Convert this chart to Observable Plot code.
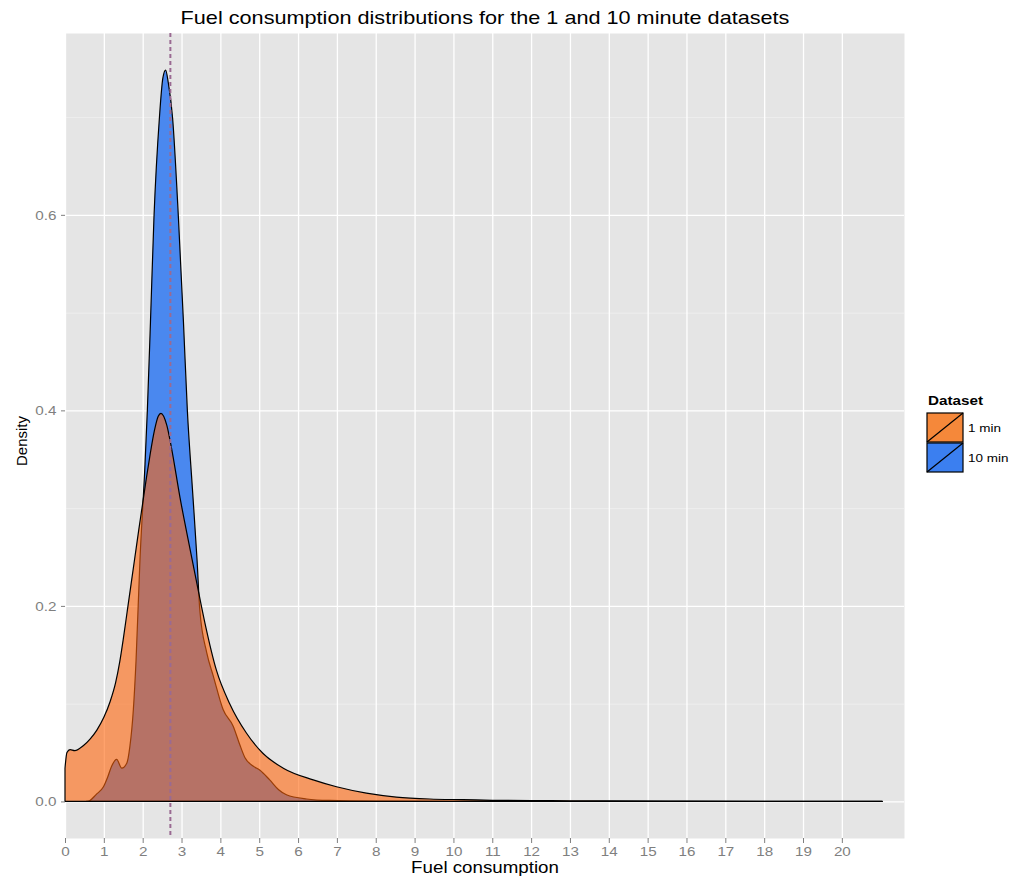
<!DOCTYPE html>
<html>
<head>
<meta charset="utf-8">
<script src="https://cdn.jsdelivr.net/npm/d3@7"></script>
<script src="https://cdn.jsdelivr.net/npm/@observablehq/plot@0.6"></script>
<style>
  html, body { margin: 0; padding: 0; background: white; }
  #chart svg { display: block; }
</style>
</head>
<body>
<div id="chart"></div>
<script>
// ---- Data ----
const titleText = "Fuel consumption distributions for the 1 and 10 minute datasets";
const xLabel = "Fuel consumption";
const yLabel = "Density";
const legendTitle = "Dataset";
const seriesNames = ["1 min", "10 min"];

const xTicks = [0,1,2,3,4,5,6,7,8,9,10,11,12,13,14,15,16,17,18,19,20];
const yTicks = [0, 0.2, 0.4, 0.6];
const yMinor = [0.1, 0.3, 0.5, 0.7];
const meanLine = [2.7];

// 1 minute dataset density curve
const oneMinX = [0.00, 0.05, 0.13, 0.25, 0.47, 0.65, 0.82, 1.00, 1.16, 1.30, 1.41, 1.50, 1.60, 1.70, 1.80, 1.90, 2.00, 2.10, 2.20, 2.30, 2.40, 2.47, 2.62, 2.74, 2.96, 3.20, 3.40, 3.60, 3.90, 4.24, 4.67, 5.10, 5.62, 6.39, 6.99, 7.76, 8.53, 9.39, 10.24, 11.0, 12.0, 13.0, 14.0, 16.0, 18.0, 21.04];
const oneMinY = [0.034, 0.050, 0.053, 0.052, 0.057, 0.064, 0.073, 0.086, 0.102, 0.121, 0.143, 0.166, 0.194, 0.222, 0.250, 0.278, 0.305, 0.332, 0.357, 0.379, 0.394, 0.397, 0.385, 0.362, 0.311, 0.262, 0.222, 0.183, 0.134, 0.100, 0.070, 0.049, 0.034, 0.022, 0.015, 0.0085, 0.0045, 0.0025, 0.0018, 0.0012, 0.0009, 0.0007, 0.0005, 0.0003, 0.0002, 0.0001];

// 10 minute dataset density curve
const tenMinX = [0.55, 0.64, 0.80, 0.99, 1.10, 1.20, 1.33, 1.46, 1.59, 1.67, 1.76, 1.83, 1.93, 2.06, 2.12, 2.20, 2.29, 2.43, 2.52, 2.59, 2.66, 2.77, 2.92, 3.05, 3.15, 3.28, 3.40, 3.47, 3.65, 3.82, 4.07, 4.33, 4.50, 4.63, 4.85, 5.02, 5.27, 5.50, 5.70, 6.22, 6.80, 8.00, 10.0, 21.04];
const tenMinY = [0.000, 0.001, 0.007, 0.015, 0.025, 0.036, 0.043, 0.034, 0.039, 0.056, 0.094, 0.145, 0.247, 0.345, 0.400, 0.490, 0.597, 0.699, 0.740, 0.748, 0.735, 0.699, 0.597, 0.490, 0.400, 0.320, 0.247, 0.196, 0.152, 0.128, 0.094, 0.077, 0.058, 0.045, 0.036, 0.032, 0.022, 0.012, 0.0068, 0.0025, 0.001, 0.0003, 0.0001, 0.0];

const oneMin = oneMinX.map((x, i) => ({x, y: oneMinY[i]}));
const tenMin = tenMinX.map((x, i) => ({x, y: tenMinY[i]}));

const orange = "#ff640a";
const blue = "#4a88ef";
const font = "'Liberation Sans', Arial, Helvetica, sans-serif";

const svg = Plot.plot({
  width: 1020,
  height: 876,
  marginLeft: 65,
  marginRight: 116,
  marginTop: 33,
  marginBottom: 38,
  style: {fontFamily: font, background: "white", overflow: "visible"},
  x: {domain: [0, 21.6]},
  y: {domain: [-0.0374, 0.786]},
  marks: [
    Plot.frame({fill: "#E5E5E5", stroke: "none"}),
    Plot.ruleY(yMinor, {stroke: "#F2F2F2", strokeWidth: 0.7}),
    Plot.ruleY(yTicks, {stroke: "white", strokeWidth: 1.3}),
    Plot.ruleX(xTicks, {stroke: "white", strokeWidth: 1.3}),
    Plot.areaY(tenMin, {x: "x", y: "y", fill: blue, stroke: "black", strokeWidth: 1.2, curve: "monotone-x"}),
    Plot.areaY(oneMin, {x: "x", y: "y", fill: orange, fillOpacity: 0.6, stroke: "black", strokeWidth: 1.2, curve: "monotone-x"}),
    Plot.ruleX(meanLine, {stroke: "#9a6a92", strokeWidth: 2, strokeDasharray: "4,3"}),
    Plot.axisX({ticks: xTicks, tickSize: 5, tickPadding: 3, fontSize: 13, color: "#7f7f7f", label: null}),
    Plot.axisY({ticks: yTicks, tickFormat: d3.format(".1f"), tickSize: 4, tickPadding: 5, fontSize: 13, color: "#7f7f7f", label: null}),
    Plot.text([titleText], {text: d => d, frameAnchor: "top", lineAnchor: "middle", textAnchor: "middle", dy: -15, fontSize: 18.5, fill: "black"}),
    Plot.text([xLabel], {text: d => d, frameAnchor: "bottom", lineAnchor: "middle", textAnchor: "middle", dy: 29, fontSize: 16, fill: "black"}),
    Plot.text([yLabel], {text: d => d, frameAnchor: "left", lineAnchor: "middle", textAnchor: "middle", dx: -43, dy: 5, rotate: -90, fontSize: 15, fill: "black"})
  ]
});

document.getElementById("chart").appendChild(svg);

// ---- Legend ----
const keyFills = ["#f5883a", "#3b7ff0"];
const lg = d3.select(svg).append("g").attr("font-family", font).attr("text-anchor", "start");
lg.append("text").attr("x", 928).attr("y", 405).attr("font-size", 13).attr("font-weight", "bold").text(legendTitle);
seriesNames.forEach((name, i) => {
  const y0 = 413 + i * 30;
  lg.append("rect").attr("x", 927).attr("y", y0).attr("width", 36).attr("height", 29)
    .attr("fill", keyFills[i]).attr("stroke", "black").attr("stroke-width", 1.2);
  lg.append("line").attr("x1", 927).attr("y1", y0 + 29).attr("x2", 963).attr("y2", y0)
    .attr("stroke", "black").attr("stroke-width", 1.2);
  lg.append("text").attr("x", 968).attr("y", y0 + 19).attr("font-size", 11.5).attr("fill", "black").text(name);
});

// The reference text is drawn slightly wider than its height: stretch horizontal texts.
d3.select(svg).selectAll("text").each(function() {
  const tr = this.getAttribute("transform") || "";
  if (tr.includes("rotate")) return;
  const len = this.getComputedTextLength();
  if (len > 0) {
    this.setAttribute("textLength", (len * 1.17).toFixed(1));
    this.setAttribute("lengthAdjust", "spacingAndGlyphs");
  }
});
</script>
</body>
</html>
